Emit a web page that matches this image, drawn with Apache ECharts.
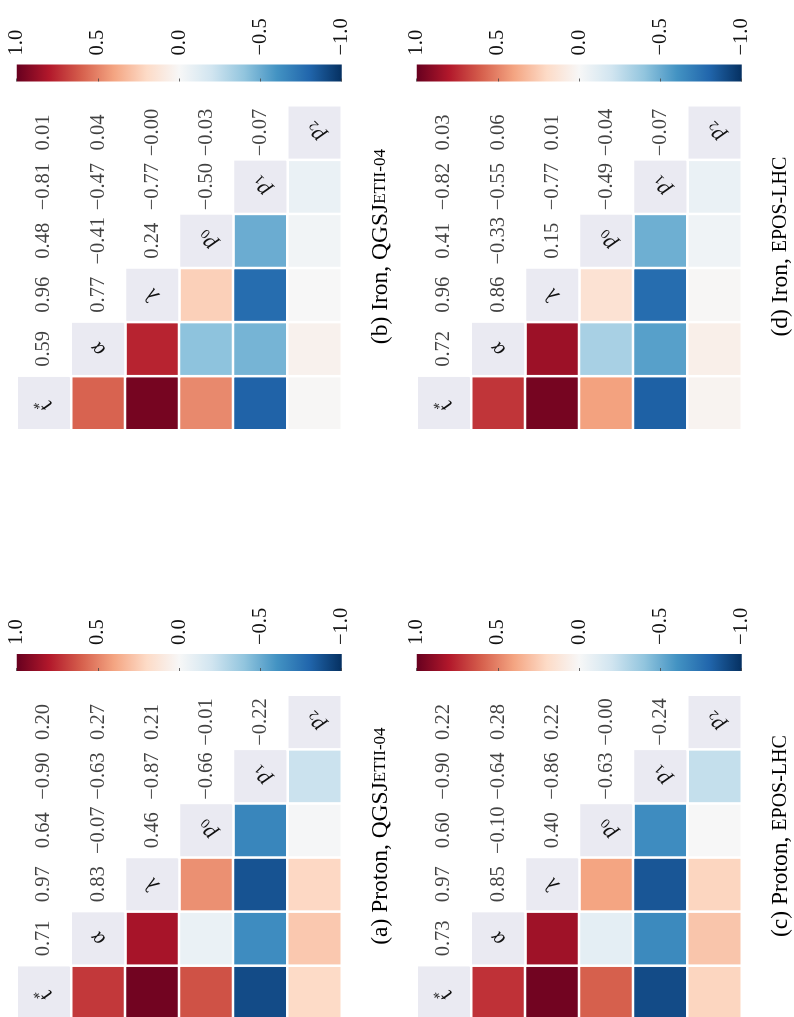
<!DOCTYPE html>
<html><head><meta charset="utf-8">
<script src="https://cdn.jsdelivr.net/npm/echarts@6/dist/echarts.min.js"></script>
<style>
html,body{margin:0;padding:0;width:794px;height:1017px;overflow:hidden;background:#fff;}
#chart{position:absolute;left:0;top:0;width:1017px;height:794px;transform-origin:0 0;transform:translate(0,1017px) rotate(-90deg);}
</style></head><body><div id="chart"></div>
<script>
// variable names (rows / columns of every matrix)
const variables = ['t*', 'α', 'λ', 'p0', 'p1', 'p2'];
// upper-triangle correlation coefficients, row by row
const protonQGSJet = [[0.71, 0.97, 0.64, -0.90, 0.20], [0.83, -0.07, -0.63, 0.27], [0.46, -0.87, 0.21], [-0.66, -0.01], [-0.22]];
const ironQGSJet   = [[0.59, 0.96, 0.48, -0.81, 0.01], [0.77, -0.41, -0.47, 0.04], [0.24, -0.77, -0.00], [-0.50, -0.03], [-0.07]];
const protonEPOS   = [[0.73, 0.97, 0.60, -0.90, 0.22], [0.85, -0.10, -0.64, 0.28], [0.40, -0.86, 0.22], [-0.63, -0.00], [-0.24]];
const ironEPOS     = [[0.72, 0.96, 0.41, -0.82, 0.03], [0.86, -0.33, -0.55, 0.06], [0.15, -0.77, 0.01], [-0.49, -0.04], [-0.07]];
const colorbarTicks = [1.0, 0.5, 0.0, -0.5, -1.0];
const panelTitles = [
  '{n|(a) Proton, QGSJ}{s|ETII-04}',
  '{n|(b) Iron, QGSJ}{s|ETII-04}',
  '{n|(c) Proton, }{e|EPOS-LHC}',
  '{n|(d) Iron, }{e|EPOS-LHC}'
];
const matrices = [protonQGSJet, ironQGSJet, protonEPOS, ironEPOS];

const RDBU_R = ['#053061', '#2166ac', '#4393c3', '#92c5de', '#d1e5f0', '#f7f7f7', '#fddbc7', '#f4a582', '#d6604d', '#b2182b', '#67001f'];
const SERIF = 'Liberation Serif';
const TXT = '#111111';

function fmt(v) {
  return (v < 0 || Object.is(v, -0)) ? '\u2212' + Math.abs(v).toFixed(2) : v.toFixed(2);
}
function labelRich(name) {
  if (name.length === 1) return '{m|' + name + '}';
  const rest = name.slice(1);
  return '{m|' + name[0] + '}' + (rest === '*' ? '{sup|*}' : '{sub|' + rest + '}');
}
// colour bar gradient: top = +1 (dark red), bottom = -1 (dark blue)
const barGradient = new echarts.graphic.LinearGradient(0, 0, 0, 1,
  RDBU_R.slice().reverse().map((c, i, arr) => ({ offset: i / (arr.length - 1), color: c })));

// panel placement (unrotated figure coordinates)
const CELL = 54.08;
const panels = [
  { gx: -2.5, gy: 17 }, { gx: 587, gy: 17 },
  { gx: -2.5, gy: 417 }, { gx: 587, gy: 417 }
];

const heatGrids = [], cbGrids = [], heatX = [], heatY = [], cbX = [], cbY = [];
const series = [], visualMaps = [], titles = [];
panels.forEach((p, k) => {
  const upper = matrices[k];
  const lower = [], diag = [], nums = [];
  for (let i = 0; i < variables.length; i++) {
    diag.push({ value: [i, i, 0], name: variables[i] });
    for (let j = i + 1; j < variables.length; j++) {
      const v = upper[i][j - i - 1];
      nums.push({ value: [j, i, v], name: fmt(v) });
      lower.push([i, j, v]);
    }
  }
  heatGrids.push({ left: p.gx, top: p.gy, width: CELL * 6, height: CELL * 6, outerBoundsMode: 'none' });
  heatX.push({ gridIndex: k, type: 'category', data: variables, show: false });
  heatY.push({ gridIndex: k, type: 'category', data: variables, inverse: true, show: false });
  series.push({
    type: 'heatmap', xAxisIndex: k, yAxisIndex: k, data: lower, silent: true,
    itemStyle: { borderColor: '#ffffff', borderWidth: 2.5 }, emphasis: { disabled: true }
  });
  series.push({
    type: 'heatmap', xAxisIndex: k, yAxisIndex: k, data: diag, silent: true,
    itemStyle: { color: '#eaeaf2', borderColor: '#ffffff', borderWidth: 2.5 }, emphasis: { disabled: true },
    label: {
      show: true, rotate: 45, formatter: (q) => labelRich(q.name),
      rich: {
        m: { fontFamily: SERIF, fontStyle: 'italic', fontSize: 22, color: TXT, lineHeight: 24 },
        sub: { fontFamily: SERIF, fontSize: 14, color: TXT, lineHeight: 14, verticalAlign: 'bottom' },
        sup: { fontFamily: SERIF, fontSize: 15, color: TXT, lineHeight: 14, verticalAlign: 'top' }
      }
    }
  });
  series.push({
    type: 'scatter', xAxisIndex: k, yAxisIndex: k, data: nums, silent: true,
    symbol: 'circle', symbolSize: 1, itemStyle: { color: 'rgba(0,0,0,0)' }, emphasis: { disabled: true },
    label: { show: true, position: 'inside', formatter: (q) => q.name, fontFamily: SERIF, fontSize: 20.5, color: TXT }
  });
  const cbLeft = p.gx + 348.5, cbTop = p.gy - 0.3;
  visualMaps.push({
    type: 'continuous', seriesIndex: 3 * k, min: colorbarTicks[colorbarTicks.length - 1], max: colorbarTicks[0],
    show: false, inRange: { color: RDBU_R }
  });
  cbGrids.push({
    left: cbLeft, top: cbTop, width: 17, height: 325, outerBoundsMode: 'none',
    show: true, borderWidth: 0, backgroundColor: barGradient
  });
  cbX.push({ gridIndex: 4 + k, type: 'value', show: false, min: 0, max: 1 });
  cbY.push({
    gridIndex: 4 + k, type: 'value', position: 'right',
    min: colorbarTicks[colorbarTicks.length - 1], max: colorbarTicks[0], interval: colorbarTicks[0] - colorbarTicks[1],
    axisLine: { show: false }, splitLine: { show: false },
    axisTick: { show: true, length: 3, lineStyle: { color: '#444', width: 0.8 } },
    axisLabel: {
      margin: 9, fontFamily: SERIF, fontSize: 20.5, color: TXT,
      formatter: (v) => (v < 0 ? '\u2212' : '') + Math.abs(v).toFixed(1)
    }
  });
  titles.push({
    text: panelTitles[k], left: p.gx + 183.4, top: p.gy + 364, textAlign: 'center', textVerticalAlign: 'middle', padding: 0,
    textStyle: {
      fontFamily: SERIF, fontSize: 23, fontWeight: 'normal', color: '#000',
      rich: {
        n: { fontFamily: SERIF, fontSize: 23.5, fontWeight: 'normal', color: '#000' },
        s: { fontFamily: SERIF, fontSize: 17, fontWeight: 'normal', color: '#000' },
        e: { fontFamily: SERIF, fontSize: 20, fontWeight: 'normal', color: '#000' }
      }
    }
  });
});

const chart = echarts.init(document.getElementById('chart'), null, { renderer: 'canvas', width: 1017, height: 794 });
chart.setOption({
  backgroundColor: '#ffffff',
  animation: false,
  title: titles,
  grid: heatGrids.concat(cbGrids),
  xAxis: heatX.concat(cbX),
  yAxis: heatY.concat(cbY),
  visualMap: visualMaps,
  series: series
});
</script></body></html>
